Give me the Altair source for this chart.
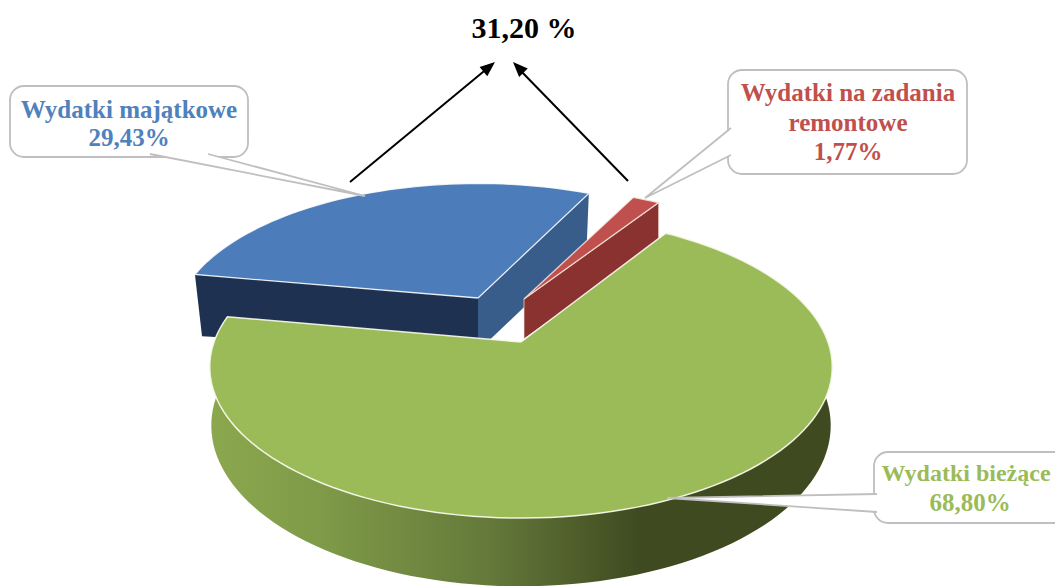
import math
import altair as alt
import pandas as pd

# --- chart values
categories = ["Wydatki bieżące", "Wydatki majątkowe", "Wydatki na zadania remontowe"]
values = [68.80, 29.43, 1.77]
value_labels = ["68,80%", "29,43%", "1,77%"]
total_label = "31,20 %"

FONT = "Liberation Serif"
START = 32.5      # clockwise from "up", where the first slice starts
TILT_BACK = 0.205
TILT_GREEN = 0.165

X = alt.X("x:Q", scale=alt.Scale(domain=[8, 1055], nice=False, zero=False), axis=None)
Y = alt.Y("y:Q", scale=alt.Scale(domain=[586, 8], nice=False, zero=False), axis=None)


def project(deg, apex, rx, ry, depth=0.0, shrink=1.0, tilt=TILT_BACK):
    t = math.radians(deg)
    u, v = math.sin(t), -math.cos(t)
    w = 1 - tilt * v
    return (apex[0] + shrink * rx * u / w, apex[1] + ry * v / w + depth / w)


def arc_pts(a0, a1, apex, rx, ry, depth=0.0, shrink=1.0, tilt=TILT_BACK, step=2.0):
    n = max(2, int(abs(a1 - a0) / step))
    return [project(a0 + (a1 - a0) * i / n, apex, rx, ry, depth, shrink, tilt) for i in range(n + 1)]


def poly(points, fill, stroke=None, sw=0.0, opacity=1.0, clip=False):
    df = pd.DataFrame({"x": [p[0] for p in points], "y": [p[1] for p in points],
                       "i": list(range(len(points)))})
    kw = dict(fill=fill, interpolate="linear", clip=clip)
    if stroke:
        kw.update(stroke=stroke, strokeWidth=sw, strokeOpacity=opacity)
    else:
        kw.update(strokeWidth=0)
    return alt.Chart(df).mark_line(**kw).encode(x=X, y=Y, order=alt.Order("i:Q"))


sweep = [v / sum(values) * 360 for v in values]
g0, g1 = START, START + sweep[0]
b0, b1 = g1, g1 + sweep[1]
r0, r1 = b1, b1 + sweep[2]

layers = []

# blue slice
BA, BRX, BRY, BD = (478, 298), 298, 138, 64
layers.append(poly([BA, project(b1, BA, BRX, BRY), project(b1, BA, BRX, BRY, BD, 0.98),
                    project(0, BA, 0, 0, BD)], "#385D8A"))
layers.append(poly([BA, project(b0, BA, BRX, BRY), project(b0, BA, BRX, BRY, BD, 0.975),
                    project(0, BA, 0, 0, BD)], "#1F3150"))
layers.append(poly([BA] + arc_pts(b0, b1, BA, BRX, BRY) + [BA], "#4C7DBA", "#FFFFFF", 1.3, 0.85))

# red slice
RA, RRX, RRY, RD = (524, 299), 294, 134, 48
layers.append(poly([RA, project(r1, RA, RRX, RRY), project(r1, RA, RRX, RRY, RD),
                    project(0, RA, 0, 0, RD), RA], "#8A3230", "#F0E6D8", 1.0, 0.7))
layers.append(poly([RA] + arc_pts(r0, r1, RA, RRX, RRY) + [RA], "#C0504D", "#F8E8E0", 1.3, 0.85))

# green slice: wall with shading, then top
GA, GRX, GRY = (521, 342), 307, 147
wall_grad = alt.LinearGradient(
    gradient="linear", x1=0, x2=1, y1=0, y2=0,
    stops=[alt.GradientStop(offset=0, color="#8BA84E"),
           alt.GradientStop(offset=0.18, color="#7F9A48"),
           alt.GradientStop(offset=0.45, color="#64793A"),
           alt.GradientStop(offset=0.69, color="#3F4A20"),
           alt.GradientStop(offset=1, color="#3F4A20")],
)
wall = (arc_pts(g0, g1, GA, GRX, GRY, tilt=TILT_GREEN)
        + arc_pts(g1, g0, GA, GRX, GRY, 57, 0.995, tilt=TILT_GREEN))
layers.append(poly(wall, wall_grad, clip=True))
layers.append(poly([GA] + arc_pts(g0, g1, GA, GRX, GRY, tilt=TILT_GREEN) + [GA], "#9BBB59", "#FBFBEF", 1.5, 0.9))

# callouts
boxes = pd.DataFrame({
    "x": [10, 728, 874], "x2": [248, 967, 1095],
    "y": [86, 70, 452], "y2": [157, 174, 523],
})
layers.append(alt.Chart(boxes).mark_rect(fill="white", stroke="#BFBFBF", strokeWidth=1.8,
                                         cornerRadius=14, clip=True).encode(
    x=X, x2="x2:Q", y=Y, y2="y2:Q"))
for pts in ([(150, 154), (365, 196), (208, 154)],
            [(731, 128), (645, 198), (731, 155)],
            [(877, 494), (667, 498), (877, 512)]):
    layers.append(poly(pts, "white", "#BFBFBF", 1.8))

# arrows
arrow_rules = pd.DataFrame({"x": [350, 628], "y": [182, 181], "x2": [489, 518], "y2": [67, 68]})
layers.append(alt.Chart(arrow_rules).mark_rule(color="black", strokeWidth=2).encode(
    x=X, x2="x2:Q", y=Y, y2="y2:Q"))
HEAD = "M0,0L-0.5,1.25L0.5,1.25Z"
for (hx, hy, ang) in [(495, 62, 50.4), (513, 62, 316)]:
    layers.append(alt.Chart(pd.DataFrame({"x": [hx], "y": [hy]})).mark_point(
        shape=HEAD, filled=True, fill="black", opacity=1, size=576, angle=ang, strokeWidth=0
    ).encode(x=X, y=Y))

# labels
text_df = pd.DataFrame({
    "x": [129, 129, 848, 848, 848, 970],
    "y": [110, 138, 93, 123, 152, 503],
    "t": ["Wydatki majątkowe", value_labels[1],
          "Wydatki na zadania", "remontowe", value_labels[2], value_labels[0]],
    "c": ["#4F81BD"] * 2 + ["#C0504D"] * 3 + ["#9BBB59"],
})
layers.append(alt.Chart(text_df).mark_text(font=FONT, fontWeight="bold", fontSize=25, baseline="middle",
                                           align="center").encode(
    x=X, y=Y, text="t:N", fill=alt.Fill("c:N", scale=None)))
layers.append(alt.Chart(pd.DataFrame({"x": [966], "y": [474], "t": [categories[0]]})).mark_text(
    font=FONT, fontWeight="bold", fontSize=24, baseline="middle", align="center", color="#9BBB59"
).encode(x=X, y=Y, text="t:N"))
layers.append(alt.Chart(pd.DataFrame({"x": [524], "y": [29], "t": [total_label]})).mark_text(
    font=FONT, fontWeight="bold", fontSize=30, baseline="middle", align="center", color="black"
).encode(x=X, y=Y, text="t:N"))

chart = alt.layer(*layers).properties(width=1047, height=578, padding=0, autosize="none",
                                      background="white").configure_view(stroke=None)
chart.save("out.html", embed_options={"renderer": "svg", "actions": False})
